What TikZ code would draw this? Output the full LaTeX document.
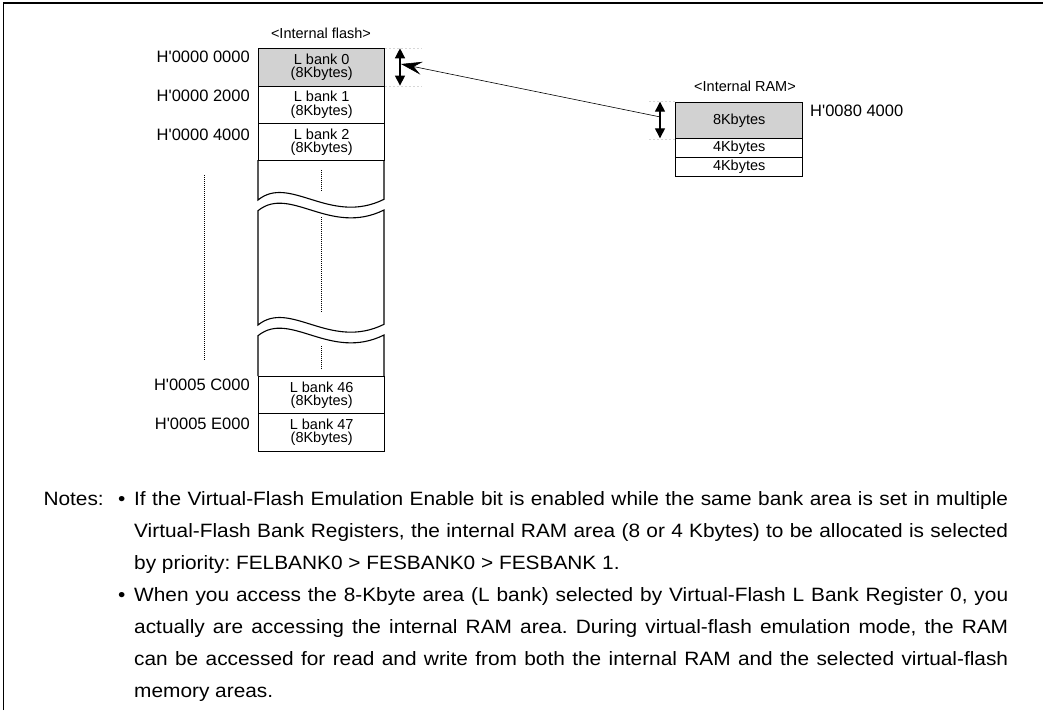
\documentclass[tikz,border=0pt]{standalone}
\usepackage{fontspec}
\setmainfont{Liberation Sans}[Ligatures=TeXOff]
\newfontfamily\notefont{Liberation Sans}[FakeStretch=1.08,Ligatures=TeXOff]
\usetikzlibrary{arrows.meta}
\frenchspacing
\definecolor{bankgray}{RGB}{210,210,210}
\definecolor{helpgray}{RGB}{215,215,215}
\newcommand\banksz{\fontsize{14.5}{13.3}\selectfont}
\newcommand\lblsz{\fontsize{16.5}{19}\selectfont}
\newcommand\notesz{\notefont\fontsize{19.3}{22}\selectfont}
\tikzset{
  bank/.style={draw, line width=1.1pt, fill=white, minimum width=126.3pt, minimum height=37.3pt,
    inner sep=0pt, anchor=north west, align=center, font=\banksz},
  selbank/.style={bank, fill=bankgray},
  ramblk/.style={draw, line width=1.1pt, fill=white, minimum width=127.3pt, minimum height=18.7pt,
    inner sep=0pt, anchor=north west, font=\banksz},
  ramsel/.style={ramblk, fill=bankgray, minimum height=36.6pt},
  addr/.style={inner sep=0pt, font=\lblsz},
  ttl/.style={inner sep=0pt, font=\banksz},
  brk/.style={line width=1.1pt},
  dots/.style={line width=1pt, dash pattern=on 1pt off 1pt},
  dblarrow/.style={line width=1.3pt, {Triangle[width=10pt,length=10pt]}-{Triangle[width=10pt,length=10pt]}},
  helper/.style={helpgray, line width=0.5pt, dash pattern=on 2pt off 2pt},
  link/.style={line width=0.6pt, -{Stealth[length=21pt,width=13pt,inset=8pt]}},
  notetxt/.style={inner sep=0pt, anchor=base west, font=\notesz},
}
\begin{document}
\begin{tikzpicture}[x=1pt,y=-1pt]
\useasboundingbox (0,0) rectangle (1043,710);
% frame
\draw[line width=1.3pt] (3.5,710) -- (3.5,3) -- (1043,3);

% ---- internal flash ----
\node[ttl] (ftitle) at (321,33) {<Internal flash>};
\node[selbank] (b0) at (258,48.3) {L bank 0\\(8Kbytes)};
\node[bank] (b1) at (258,85.6) {L bank 1\\(8Kbytes)};
\node[bank] (b2) at (258,122.9) {L bank 2\\(8Kbytes)};

% broken part
\draw[brk] (258,160.2) -- (258,200) .. controls (290,174) and (330,226) .. (384,199.3) -- (384,160.2);
\draw[brk] (258,210.7) .. controls (290,184.7) and (330,236.7) .. (384,210) -- (384,324.3)
  .. controls (330,351) and (290,299) .. (258,325) -- cycle;
\draw[brk] (258,376) -- (258,335.7) .. controls (290,309.7) and (330,361.7) .. (384,335) -- (384,376);

\node[bank] (b46) at (258,376) {L bank 46\\(8Kbytes)};
\node[bank] (b47) at (258,413.3) {L bank 47\\(8Kbytes)};

% dotted continuation marks
\draw[dots] (321.7,170) -- (321.7,191);
\draw[dots] (321.7,217) -- (321.7,312);
\draw[dots] (321.7,346) -- (321.7,369);
\draw[dots] (204,175) -- (204,360);

% addresses
\node[addr, anchor=east] (a0) at (250,57) {H'0000 0000};
\node[addr, anchor=east] (a1) at (250,96) {H'0000 2000};
\node[addr, anchor=east] (a2) at (250,134.5) {H'0000 4000};
\node[addr, anchor=east] (a46) at (250,385) {H'0005 C000};
\node[addr, anchor=east] (a47) at (250,424) {H'0005 E000};

% ---- internal RAM ----
\node[ttl] (rtitle) at (745,86) {<Internal RAM>};
\node[ramsel] (r8) at (675,101.7) {8Kbytes};
\node[ramblk] (r4a) at (675,138.3) {4Kbytes};
\node[ramblk] (r4b) at (675,157) {4Kbytes};
\node[addr, anchor=west] (ra) at (810,110.7) {H'0080 4000};

% size markers
\draw[helper] (b0.north east) -- ++(37,0);
\draw[helper] (b0.south east) -- ++(37,0);
\draw[helper] (r8.north west) -- ++(-26,0);
\draw[helper] (r8.south west) -- ++(-26,0);
\coordinate (m1t) at (400,48.3);
\coordinate (m1b) at (400,85.6);
\coordinate (m2t) at (660,101.7);
\coordinate (m2b) at (660,138.3);
\draw[dblarrow] (m1t) -- (m1b);
\draw[dblarrow] (m2t) -- (m2b);

% mapping connector
\coordinate (selR) at (659,116.7);
\coordinate (selF) at (401,64);
\draw[link] (selR) -- (selF);

% ---- notes ----
\node[notetxt] (nt) at (43.3,505.7) {Notes:};
\node[inner sep=0pt, anchor=base, font=\notesz] (bu1) at (121.7,505.7) {•};
\node[inner sep=0pt, anchor=base, font=\notesz] (bu2) at (121.7,601.55) {•};
\node[notetxt] (l1) at (134,505.7) {\makebox[874pt][s]{If the Virtual-Flash Emulation Enable bit is enabled while the same bank area is set in multiple}};
\node[notetxt] (l2) at (134,537.65) {\makebox[874pt][s]{Virtual-Flash Bank Registers, the internal RAM area (8 or 4 Kbytes) to be allocated is selected}};
\node[notetxt] (l3) at (134,569.6) {by priority: FELBANK0 > FESBANK0 > FESBANK 1.};
\node[notetxt] (l4) at (134,601.55) {\makebox[874pt][s]{When you access the 8-Kbyte area (L bank) selected by Virtual-Flash L Bank Register 0, you}};
\node[notetxt] (l5) at (134,633.5) {\makebox[874pt][s]{actually are accessing the internal RAM area. During virtual-flash emulation mode, the RAM}};
\node[notetxt] (l6) at (134,665.45) {\makebox[874pt][s]{can be accessed for read and write from both the internal RAM and the selected virtual-flash}};
\node[notetxt] (l7) at (134,697.4) {memory areas.};
\end{tikzpicture}
\end{document}
